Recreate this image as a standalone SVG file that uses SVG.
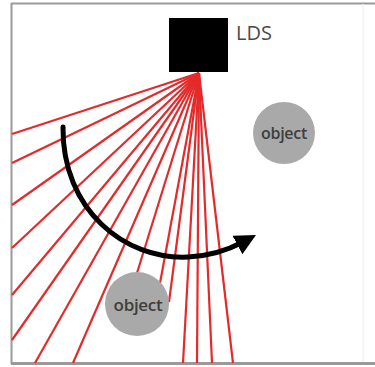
<svg xmlns="http://www.w3.org/2000/svg" width="375" height="367" viewBox="0 0 375 367">
<style>
.frame{stroke:#9a9a9a;stroke-width:2;fill:none}
.ray{stroke:#e42a2a;stroke-width:2.2;fill:none}
.obj{fill:#a9a9a9}
.objt{font-family:"Open Sans",sans-serif;font-weight:600;font-size:16px;fill:#3e3e3e;text-anchor:middle;letter-spacing:-0.3px}
.lbl{font-family:"Open Sans",sans-serif;font-size:20px;fill:#4a4a4a}
</style>
<defs>
<marker id="ah" viewBox="0 0 10 10" refX="3" refY="5" markerWidth="4.2" markerHeight="4.2" orient="auto" markerUnits="strokeWidth">
<path d="M0,0 L10,5 L0,10 Z" fill="#000"/>
</marker>
</defs>
<rect width="375" height="367" fill="#fff"/>
<g id="frame">
<line class="frame" x1="11.5" y1="3" x2="11.5" y2="364"/>
<line class="frame" x1="11" y1="3.5" x2="375" y2="3.5"/>
<line class="frame" x1="11" y1="363.5" x2="375" y2="363.5" style="stroke-width:3"/>
<line x1="363" y1="4" x2="363" y2="362" stroke="#f2f2f2" stroke-width="1.5"/>
</g>
<g id="connectors">
<line class="ray" x1="199" y1="73" x2="12" y2="134"/>
<line class="ray" x1="199" y1="73" x2="12" y2="163"/>
<line class="ray" x1="199" y1="73" x2="12" y2="205"/>
<line class="ray" x1="199" y1="73" x2="12" y2="248"/>
<line class="ray" x1="199" y1="73" x2="12" y2="295"/>
<line class="ray" x1="199" y1="73" x2="12" y2="340"/>
<line class="ray" x1="199" y1="73" x2="35" y2="363"/>
<line class="ray" x1="199" y1="73" x2="73" y2="363"/>
<line class="ray" x1="199" y1="73" x2="137" y2="273"/>
<line class="ray" x1="199" y1="73" x2="160" y2="283"/>
<line class="ray" x1="199" y1="73" x2="169" y2="302"/>
<line class="ray" x1="199" y1="73" x2="183" y2="363"/>
<line class="ray" x1="199" y1="73" x2="197" y2="363"/>
<line class="ray" x1="199" y1="73" x2="212" y2="363"/>
<line class="ray" x1="199" y1="73" x2="233" y2="363"/>
<path d="M63,127 C62,210 125,260 188,257 C210,256 228,250 243,242" fill="none" stroke="#000" stroke-width="5" stroke-linecap="round" marker-end="url(#ah)"/>
</g>
<g id="lds">
<rect x="169" y="18" width="59" height="54" fill="#000"/>
<text class="lbl" x="236" y="40">LDS</text>
</g>
<g id="object1">
<circle class="obj" cx="284" cy="133" r="31"/>
<text class="objt" x="284" y="139">object</text>
</g>
<g id="object2">
<circle class="obj" cx="137" cy="304" r="32"/>
<text class="objt" x="138" y="311" style="font-size:17px">object</text>
</g>
</svg>
